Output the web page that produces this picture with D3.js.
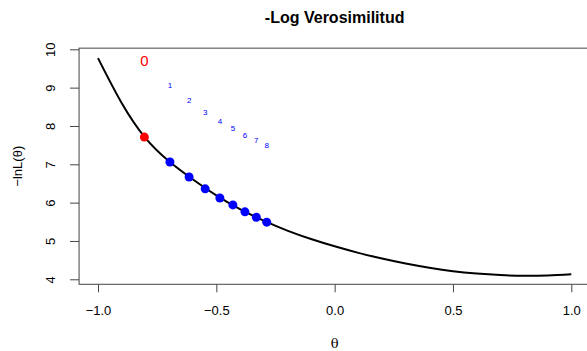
<!DOCTYPE html>
<html><head><meta charset="utf-8">
<script src="https://cdn.jsdelivr.net/npm/d3@7"></script>
<style>body{margin:0;background:#fff}svg{display:block}</style>
</head><body>
<script>
// curve samples of -log likelihood
const thetaGrid = [-1.0,-0.9,-0.8,-0.7,-0.6,-0.5,-0.4,-0.3,-0.2,-0.1,0.0,0.1,0.2,0.3,0.4,0.5,0.6,0.7,0.8,0.9,1.0];
const negLogLik = [9.77,8.60,7.69,7.08,6.61,6.19,5.83,5.53,5.27,5.05,4.86,4.69,4.54,4.41,4.30,4.21,4.15,4.11,4.09,4.10,4.13];
// iterations
const iterLabels = ["0","1","2","3","4","5","6","7","8"];
const iterTheta = [-0.804,-0.696,-0.615,-0.547,-0.485,-0.430,-0.379,-0.331,-0.287];
const iterValue = [7.71,7.06,6.67,6.36,6.12,5.94,5.76,5.62,5.49];
const xTicks = [-1.0,-0.5,0.0,0.5,1.0];
const yTicks = [4,5,6,7,8,9,10];

const W=587,H=351;
const svg=d3.select("body").append("svg").attr("width",W).attr("height",H);
const x=d3.scaleLinear().domain([-1,1]).range([98,571.3]);
const y=d3.scaleLinear().domain([4,10]).range([279.3,49.3]);
const pL=x(-1.08), pR=x(1.08), pT=y(10.03), pB=y(3.87);
const font="Liberation Sans, Arial, Helvetica, sans-serif";

// box
svg.append("rect").attr("x",pL).attr("y",pT).attr("width",pR-pL).attr("height",pB-pT)
  .attr("fill","none").attr("stroke","#444").attr("stroke-width",1);

// x axis
const xa=svg.append("g").attr("transform",`translate(0,${pB})`)
  .call(d3.axisBottom(x).tickValues(xTicks).tickSize(8).tickFormat(d3.format(".1f")));
xa.select(".domain").remove();
xa.selectAll("line").attr("stroke","#444");
xa.selectAll("text").attr("font-family",font).attr("font-size",13).attr("fill","#000").attr("dy","1.55em");

// y axis
const ya=svg.append("g").attr("transform",`translate(${pL},0)`)
  .call(d3.axisLeft(y).tickValues(yTicks).tickSize(9).tickFormat(d3.format("d")));
ya.select(".domain").remove();
ya.selectAll("line").attr("stroke","#444");
ya.selectAll("text").attr("font-family",font).attr("font-size",13).attr("fill","#000")
  .attr("x",0).attr("dy",0).attr("text-anchor","middle")
  .attr("transform",`translate(-24,0) rotate(-90)`);

// curve
const curveData=thetaGrid.map((t,i)=>[t,negLogLik[i]]);
svg.append("path").datum(curveData)
  .attr("d",d3.line().x(d=>x(d[0])).y(d=>y(d[1])).curve(d3.curveNatural))
  .attr("fill","none").attr("stroke","#000").attr("stroke-width",2);

// points
svg.selectAll("circle.pt").data(iterTheta).join("circle").attr("class","pt")
  .attr("cx",d=>x(d)).attr("cy",(d,i)=>y(iterValue[i])).attr("r",4.5)
  .attr("fill",(d,i)=>i===0?"#ff0000":"#0000ff");

// labels
svg.selectAll("text.lab").data(iterLabels).join("text").attr("class","lab")
  .attr("x",(d,i)=>x(iterTheta[i])).attr("y",(d,i)=>y(iterValue[i]+2))
  .attr("text-anchor","middle").attr("dominant-baseline","central")
  .attr("font-family",font).attr("font-size",(d,i)=>i===0?15:8)
  .attr("fill",(d,i)=>i===0?"#ff0000":"#0000ff").text(d=>d);

// title
svg.append("text").attr("x",(pL+pR)/2).attr("y",23).attr("text-anchor","middle")
  .attr("font-family",font).attr("font-weight","bold").attr("font-size",16).text("-Log Verosimilitud");
// x label
svg.append("text").attr("x",(pL+pR)/2).attr("y",348).attr("text-anchor","middle")
  .attr("font-family","DejaVu Serif, serif").attr("font-size",13).text("θ");
// y label
svg.append("text").attr("transform",`translate(22,${(pT+pB)/2}) rotate(-90)`).attr("text-anchor","middle")
  .attr("font-family",font).attr("font-size",13).text("−lnL(θ)");
</script>
</body></html>
